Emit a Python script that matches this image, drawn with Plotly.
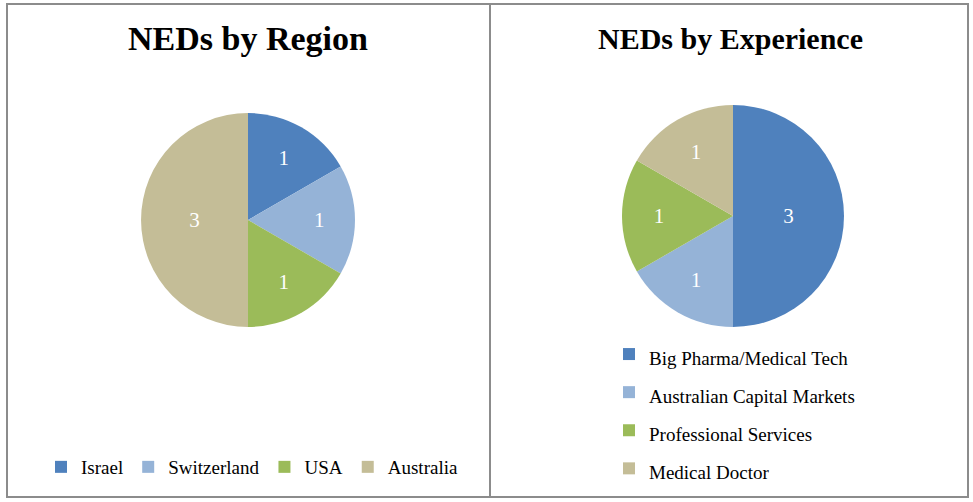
import plotly.graph_objects as go

# ---- data ----
region_labels = ["Israel", "Switzerland", "USA", "Australia"]
region_values = [1, 1, 1, 3]
region_colors = ["#4F81BD", "#95B3D7", "#9BBB59", "#C4BD97"]

exp_labels = ["Big Pharma/Medical Tech", "Australian Capital Markets",
              "Professional Services", "Medical Doctor"]
exp_values = [3, 1, 1, 1]
exp_colors = ["#4F81BD", "#95B3D7", "#9BBB59", "#C4BD97"]

titles = ["NEDs by Region", "NEDs by Experience"]

W, H = 973, 502
SERIF = "Liberation Serif, Times New Roman, serif"


def px_x(x):
    return x / W


def px_y(y):
    return 1 - y / H


# legend text drawn at 19px while the row height is set by a larger legend font
exp_legend_labels = ['<span style="font-size:19px">%s</span>' % s for s in exp_labels]

fig = go.Figure()

fig.add_trace(go.Pie(
    labels=region_labels, values=region_values,
    marker=dict(colors=region_colors, line=dict(width=0)),
    sort=False, direction="clockwise", rotation=0,
    textinfo="value", textposition="inside", insidetextorientation="horizontal",
    textfont=dict(family=SERIF, size=21, color="white"),
    domain=dict(x=[px_x(141), px_x(355)], y=[px_y(327), px_y(113)]),
    legend="legend",
))

fig.add_trace(go.Pie(
    labels=exp_legend_labels, values=exp_values,
    marker=dict(colors=exp_colors, line=dict(width=0)),
    sort=False, direction="clockwise", rotation=0,
    textinfo="value", textposition="inside", insidetextorientation="horizontal",
    textfont=dict(family=SERIF, size=21, color="white"),
    domain=dict(x=[px_x(622), px_x(844)], y=[px_y(327), px_y(105)]),
    legend="legend2",
))

fig.update_layout(
    width=W, height=H,
    margin=dict(l=0, r=0, t=0, b=0),
    paper_bgcolor="white", plot_bgcolor="white",
    font=dict(family=SERIF, color="#000000"),
    legend=dict(
        orientation="h", x=px_x(252), xanchor="center", y=px_y(467), yanchor="middle",
        font=dict(family=SERIF, size=19, color="#000000"),
        bgcolor="rgba(0,0,0,0)", itemclick=False, itemdoubleclick=False,
    ),
    legend2=dict(
        orientation="v", x=px_x(609), xanchor="left", y=px_y(330), yanchor="top",
        font=dict(family=SERIF, size=27, color="#000000"),
        bgcolor="rgba(0,0,0,0)", itemclick=False, itemdoubleclick=False,
    ),
    annotations=[
        dict(text="<b>%s</b>" % titles[0], x=px_x(248), y=px_y(38), xref="paper", yref="paper",
             xanchor="center", yanchor="middle", showarrow=False,
             font=dict(family=SERIF, size=34, color="#000000")),
        dict(text="<b>%s</b>" % titles[1], x=px_x(730), y=px_y(38), xref="paper", yref="paper",
             xanchor="center", yanchor="middle", showarrow=False,
             font=dict(family=SERIF, size=30, color="#000000")),
    ],
    shapes=[
        dict(type="rect", xref="paper", yref="paper",
             x0=px_x(7), x1=px_x(968), y0=px_y(497), y1=px_y(4),
             line=dict(color="#8C8C8C", width=2), fillcolor="rgba(0,0,0,0)"),
        dict(type="line", xref="paper", yref="paper",
             x0=px_x(490), x1=px_x(490), y0=px_y(497), y1=px_y(4),
             line=dict(color="#8C8C8C", width=2)),
    ],
)

fig.write_html(
    "out.html",
    config={"displayModeBar": False},
    post_script="document.body.style.margin='0';document.body.style.padding='0';",
)
